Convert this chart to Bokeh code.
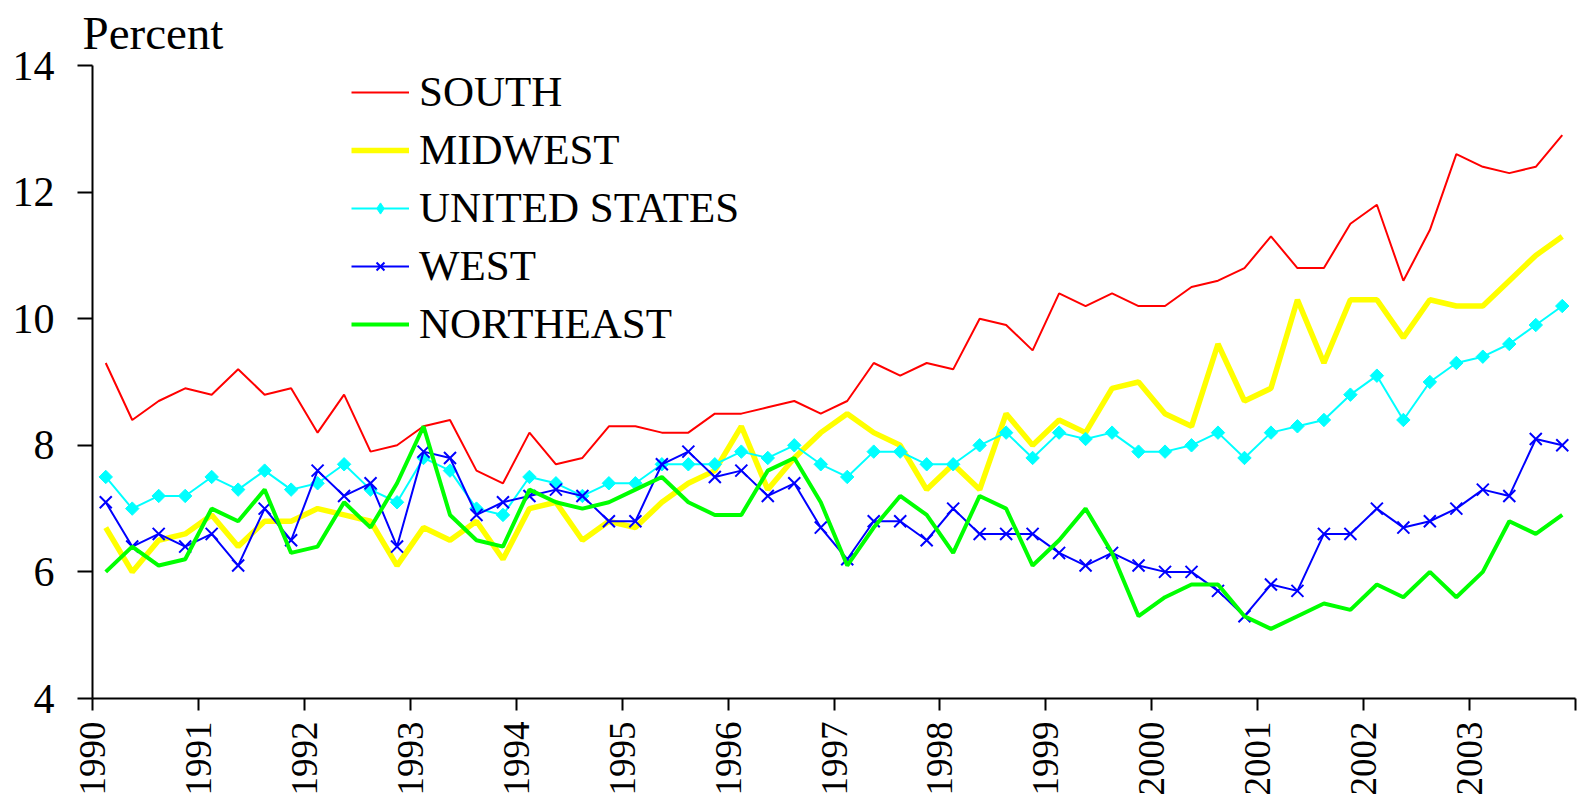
from math import pi
from bokeh.plotting import figure
from bokeh.models import Range1d, FixedTicker, Legend, LegendItem, CDSView, IndexFilter, ColumnDataSource
from bokeh.embed import file_html
from bokeh.resources import INLINE

years = list(range(1990, 2004))
quarters = [f"{y}Q{q}" for y in years for q in range(1, 5)]

south = [9.3, 8.4, 8.7, 8.9, 8.8, 9.2, 8.8, 8.9, 8.2, 8.8, 7.9, 8.0, 8.3, 8.4, 7.6, 7.4, 8.2, 7.7,
         7.8, 8.3, 8.3, 8.2, 8.2, 8.5, 8.5, 8.6, 8.7, 8.5, 8.7, 9.3, 9.1, 9.3, 9.2, 10.0, 9.9,
         9.5, 10.4, 10.2, 10.4, 10.2, 10.2, 10.5, 10.6, 10.8, 11.3, 10.8, 10.8, 11.5, 11.8, 10.6, 11.4,
         12.6, 12.4, 12.3, 12.4, 12.9]
midwest = [6.7, 6.0, 6.5, 6.6, 6.9, 6.4, 6.8, 6.8, 7.0, 6.9, 6.8, 6.1, 6.7, 6.5, 6.8, 6.2, 7.0, 7.1,
           6.5, 6.8, 6.7, 7.1, 7.4, 7.6, 8.3, 7.3, 7.8, 8.2, 8.5, 8.2, 8.0, 7.3, 7.7, 7.3, 8.5,
           8.0, 8.4, 8.2, 8.9, 9.0, 8.5, 8.3, 9.6, 8.7, 8.9, 10.3, 9.3, 10.3, 10.3, 9.7, 10.3,
           10.2, 10.2, 10.6, 11.0, 11.3]
united_states = [7.5, 7.0, 7.2, 7.2, 7.5, 7.3, 7.6, 7.3, 7.4, 7.7, 7.3, 7.1, 7.8, 7.6, 7.0, 6.9, 7.5, 7.4,
                 7.2, 7.4, 7.4, 7.7, 7.7, 7.7, 7.9, 7.8, 8.0, 7.7, 7.5, 7.9, 7.9, 7.7, 7.7, 8.0, 8.2,
                 7.8, 8.2, 8.1, 8.2, 7.9, 7.9, 8.0, 8.2, 7.8, 8.2, 8.3, 8.4, 8.8, 9.1, 8.4, 9.0,
                 9.3, 9.4, 9.6, 9.9, 10.2]
west = [7.1, 6.4, 6.6, 6.4, 6.6, 6.1, 7.0, 6.5, 7.6, 7.2, 7.4, 6.4, 7.9, 7.8, 6.9, 7.1, 7.2, 7.3,
        7.2, 6.8, 6.8, 7.7, 7.9, 7.5, 7.6, 7.2, 7.4, 6.7, 6.2, 6.8, 6.8, 6.5, 7.0, 6.6, 6.6,
        6.6, 6.3, 6.1, 6.3, 6.1, 6.0, 6.0, 5.7, 5.3, 5.8, 5.7, 6.6, 6.6, 7.0, 6.7, 6.8,
        7.0, 7.3, 7.2, 8.1, 8.0]
northeast = [6.0, 6.4, 6.1, 6.2, 7.0, 6.8, 7.3, 6.3, 6.4, 7.1, 6.7, 7.4, 8.3, 6.9, 6.5, 6.4, 7.3, 7.1,
             7.0, 7.1, 7.3, 7.5, 7.1, 6.9, 6.9, 7.6, 7.8, 7.1, 6.1, 6.7, 7.2, 6.9, 6.3, 7.2, 7.0,
             6.1, 6.5, 7.0, 6.3, 5.3, 5.6, 5.8, 5.8, 5.3, 5.1, 5.3, 5.5, 5.4, 5.8, 5.6, 6.0,
             5.6, 6.0, 6.8, 6.6, 6.9]

y_ticks = [4, 6, 8, 10, 12, 14]
x_ticks = years + [2004]
x_labels = {y: str(y) for y in years}
x_labels[2004] = ""

# quarter midpoints on a continuous year axis
x = [int(s[:4]) + (int(s[-1]) - 0.5) / 4 for s in quarters]
us_source = ColumnDataSource(data=dict(x=x, y=united_states))

FONT = "Liberation Serif"

p = figure(width=1578, height=805, output_backend="svg", toolbar_location=None,
           x_range=Range1d(1990, 2004), y_range=Range1d(4, 14),
           min_border_left=92, min_border_right=3, min_border_top=65, min_border_bottom=107,
           title="Percent")
p.outline_line_color = None
p.xgrid.visible = False
p.ygrid.visible = False
p.background_fill_color = "white"
p.border_fill_color = "white"

p.title.text_font = FONT
p.title.text_font_size = "47px"
p.title.text_font_style = "normal"
p.title.text_color = "black"
p.title.align = "left"
p.title.offset = -10
p.title.standoff = 10
p.title.vertical_align = "top"

r_s = p.line(x, south, line_color="#FF0000", line_width=2)
r_m = p.line(x, midwest, line_color="#FFFF00", line_width=5.5)
r_u = p.line("x", "y", source=us_source, line_color="#00FFFF", line_width=2)
# legend swatch glyph (diamond); its single drawn point sits fully under the plot marker below
r_um_key = p.scatter("x", "y", source=us_source, view=CDSView(filter=IndexFilter(indices=[0])),
                     marker="diamond", size=12, fill_color="#00FFFF", line_color="#00FFFF")
r_um = p.scatter("x", "y", source=us_source, marker="square", angle=pi / 4, size=9.5,
                 fill_color="#00FFFF", line_color="#00FFFF")
r_w = p.line(x, west, line_color="#0000FF", line_width=2)
r_wm = p.scatter(x, west, marker="x", size=17, line_color="#0000FF", line_width=2)
r_n = p.line(x, northeast, line_color="#00FF00", line_width=4)

for ax in (p.xaxis[0], p.yaxis[0]):
    ax.axis_line_width = 2
    ax.major_tick_line_width = 2
    ax.minor_tick_line_color = None
    ax.major_tick_in = 0
    ax.major_label_text_font = FONT
    ax.major_label_text_color = "black"

p.yaxis.ticker = FixedTicker(ticks=y_ticks)
p.yaxis.major_tick_out = 15
p.yaxis.major_label_standoff = 23
p.yaxis.major_label_text_font_size = "42px"

p.xaxis.ticker = FixedTicker(ticks=x_ticks)
p.xaxis.major_label_overrides = x_labels
p.xaxis.major_label_orientation = pi / 2
p.xaxis.major_tick_out = 12
p.xaxis.major_label_standoff = 11
p.xaxis.major_label_text_font_size = "37px"

legend = Legend(items=[
    LegendItem(label="SOUTH", renderers=[r_s]),
    LegendItem(label="MIDWEST", renderers=[r_m]),
    LegendItem(label="UNITED STATES", renderers=[r_u, r_um_key]),
    LegendItem(label="WEST", renderers=[r_w, r_wm]),
    LegendItem(label="NORTHEAST", renderers=[r_n]),
], location=(259, 350))
legend.label_text_font = FONT
legend.label_text_font_size = "43px"
legend.label_text_color = "black"
legend.label_height = 28
legend.glyph_height = 28
legend.glyph_width = 58
legend.label_standoff = 10
legend.spacing = 9
legend.padding = 0
legend.margin = 0
legend.border_line_color = None
legend.background_fill_alpha = 0
p.add_layout(legend)

open("out.html", "w").write(file_html(p, INLINE))
